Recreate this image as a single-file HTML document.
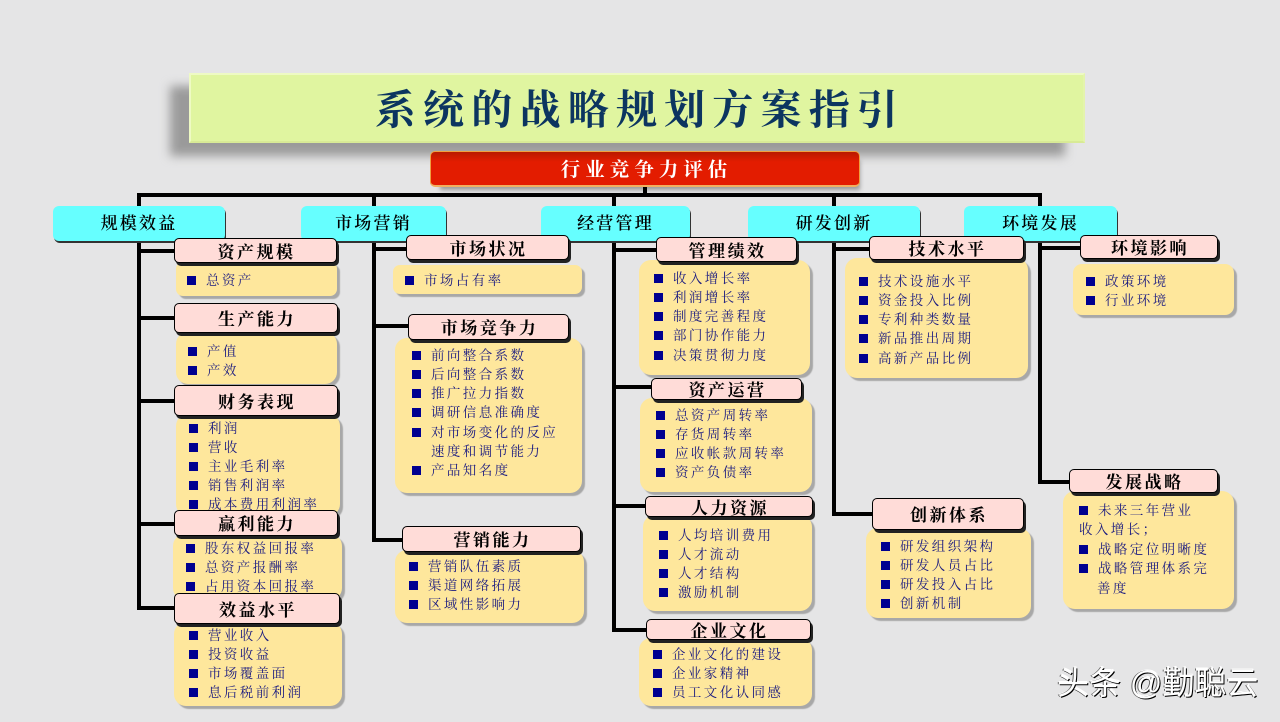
<!DOCTYPE html>
<html lang="zh">
<head>
<meta charset="utf-8">
<title>系统的战略规划方案指引</title>
<style>
html,body{margin:0;padding:0}
body{width:1280px;height:722px;overflow:hidden;position:relative;background:#e5e5e6;font-family:"Liberation Serif","Noto Serif CJK SC",serif}
div,b{position:absolute;box-sizing:border-box;display:block}
.l{background:#000}
.sh{background:#9a9a9a;filter:blur(5px)}
.title{left:189px;top:73px;width:896px;height:70px;background:#e0f5a0;border:2px solid #eefac4;border-right-color:#e4f4ac;border-bottom-color:#d8ea96;color:#0c3560;font-size:41px;font-weight:700;letter-spacing:7.2px;line-height:70px;text-align:center;padding-left:6px}
.red{left:430px;top:151px;width:430px;height:36px;border-radius:5px;background:linear-gradient(#b81a00 0,#e31c00 30%,#e31c00 100%);border:1px solid #f0a040;border-bottom:2px solid #f0b060;color:#fff;font-size:19.5px;font-weight:700;letter-spacing:5px;text-align:center;line-height:37px;padding-left:3px}
.c{height:35px;border-radius:6px;background:#66ffff;box-shadow:1px 2px 0 #333;color:#000;font-size:17px;font-weight:600;letter-spacing:2.2px;text-align:center;line-height:36px}
.y{background:#fee79c;border-radius:12px;box-shadow:3px 3px 1px #a8a8a8;transform:translateX(-1px)}
.h{background:#ffdcd8;border:1.5px solid #000;border-radius:5px;box-shadow:2px 3px 0 #222;color:#000;font-size:17px;font-weight:700;letter-spacing:2.5px;text-align:center;display:flex;align-items:center;justify-content:center;padding-bottom:1px;padding-left:2px;transform:translate(-1px,-1px)}
.t{color:#1a1a80;font-size:13.5px;letter-spacing:2.4px;line-height:19px;white-space:nowrap;height:19px}
.t.b::before{content:"";position:absolute;left:-19px;top:5px;width:9px;height:9px;background:#000090}
.wm{left:1057px;top:663px;font-family:"Liberation Sans","Noto Sans CJK SC",sans-serif;font-size:32px;line-height:40px;font-weight:400;color:#fff;text-shadow:1px 1px 0 #000,-1px 0 0 #666,0 -1px 0 #fff;white-space:nowrap}
</style>
</head>
<body>
<!-- title shadow -->
<div class="sh" style="left:170px;top:86px;width:895px;height:70px"></div>
<div class="title">系统的战略规划方案指引</div>
<div class="sh" style="left:440px;top:160px;width:420px;height:30px;filter:blur(2px)"></div>

<!-- connectors -->
<div class="l" style="left:643px;top:186px;width:4px;height:10px"></div>
<div class="l" style="left:137px;top:193px;width:905px;height:4px"></div>
<div class="l" style="left:137px;top:193px;width:4px;height:417px"></div>
<div class="l" style="left:372px;top:193px;width:4px;height:349px"></div>
<div class="l" style="left:612px;top:193px;width:4px;height:439px"></div>
<div class="l" style="left:832px;top:193px;width:4px;height:323px"></div>
<div class="l" style="left:1038px;top:193px;width:4px;height:291px"></div>
<div class="l" style="left:137px;top:249px;width:40px;height:4px"></div>
<div class="l" style="left:137px;top:316px;width:40px;height:4px"></div>
<div class="l" style="left:137px;top:399px;width:40px;height:4px"></div>
<div class="l" style="left:137px;top:522px;width:40px;height:4px"></div>
<div class="l" style="left:137px;top:606px;width:40px;height:4px"></div>
<div class="l" style="left:372px;top:247px;width:37px;height:4px"></div>
<div class="l" style="left:372px;top:324px;width:39px;height:4px"></div>
<div class="l" style="left:372px;top:538px;width:33px;height:4px"></div>
<div class="l" style="left:612px;top:248px;width:47px;height:4px"></div>
<div class="l" style="left:612px;top:385px;width:42px;height:4px"></div>
<div class="l" style="left:612px;top:504px;width:36px;height:4px"></div>
<div class="l" style="left:612px;top:628px;width:37px;height:4px"></div>
<div class="l" style="left:832px;top:247px;width:40px;height:4px"></div>
<div class="l" style="left:832px;top:512px;width:43px;height:4px"></div>
<div class="l" style="left:1038px;top:246px;width:45px;height:4px"></div>
<div class="l" style="left:1038px;top:480px;width:34px;height:4px"></div>

<div class="red">行业竞争力评估</div>

<!-- top categories -->
<div class="c" style="left:53px;top:206px;width:172px">规模效益</div>
<div class="c" style="left:301px;top:206px;width:145px">市场营销</div>
<div class="c" style="left:541px;top:206px;width:149px">经营管理</div>
<div class="c" style="left:748px;top:206px;width:172px">研发创新</div>
<div class="c" style="left:964px;top:206px;width:153px">环境发展</div>

<!-- yellow panels -->
<div class="y" style="left:177px;top:262px;width:161px;height:34px;border-radius:7px"></div>
<div class="y" style="left:177px;top:332px;width:161px;height:52px"></div>
<div class="y" style="left:177px;top:414px;width:164px;height:102px"></div>
<div class="y" style="left:174px;top:534px;width:169px;height:66px"></div>
<div class="y" style="left:175px;top:622px;width:168px;height:84px"></div>
<div class="y" style="left:394px;top:265px;width:189px;height:29px;border-radius:7px"></div>
<div class="y" style="left:396px;top:338px;width:187px;height:155px"></div>
<div class="y" style="left:396px;top:550px;width:189px;height:73px"></div>
<div class="y" style="left:640px;top:260px;width:171px;height:115px"></div>
<div class="y" style="left:641px;top:398px;width:172px;height:94px"></div>
<div class="y" style="left:644px;top:515px;width:169px;height:96px"></div>
<div class="y" style="left:640px;top:638px;width:173px;height:68px"></div>
<div class="y" style="left:846px;top:258px;width:183px;height:120px"></div>
<div class="y" style="left:867px;top:528px;width:165px;height:90px"></div>
<div class="y" style="left:1074px;top:264px;width:161px;height:51px;border-radius:9px"></div>
<div class="y" style="left:1064px;top:491px;width:171px;height:118px"></div>

<!-- list text -->
<div class="t b" style="left:206px;top:271px">总资产</div>
<div class="t b" style="left:207px;top:342px">产值</div>
<div class="t b" style="left:207px;top:361px">产效</div>
<div class="t b" style="left:208px;top:419px">利润</div>
<div class="t b" style="left:208px;top:438px">营收</div>
<div class="t b" style="left:208px;top:457px">主业毛利率</div>
<div class="t b" style="left:208px;top:476px">销售利润率</div>
<div class="t b" style="left:208px;top:495px">成本费用利润率</div>
<div class="t b" style="left:205px;top:539px">股东权益回报率</div>
<div class="t b" style="left:205px;top:558px">总资产报酬率</div>
<div class="t b" style="left:205px;top:577px">占用资本回报率</div>
<div class="t b" style="left:208px;top:626px">营业收入</div>
<div class="t b" style="left:208px;top:645px">投资收益</div>
<div class="t b" style="left:208px;top:664px">市场覆盖面</div>
<div class="t b" style="left:208px;top:683px">息后税前利润</div>

<div class="t b" style="left:424px;top:271px">市场占有率</div>
<div class="t b" style="left:431px;top:346px">前向整合系数</div>
<div class="t b" style="left:431px;top:365px">后向整合系数</div>
<div class="t b" style="left:431px;top:384px">推广拉力指数</div>
<div class="t b" style="left:431px;top:403px">调研信息准确度</div>
<div class="t b" style="left:431px;top:423px">对市场变化的反应</div>
<div class="t" style="left:431px;top:442px">速度和调节能力</div>
<div class="t b" style="left:431px;top:461px">产品知名度</div>
<div class="t b" style="left:428px;top:557px">营销队伍素质</div>
<div class="t b" style="left:428px;top:576px">渠道网络拓展</div>
<div class="t b" style="left:428px;top:595px">区域性影响力</div>

<div class="t b" style="left:673px;top:269px">收入增长率</div>
<div class="t b" style="left:673px;top:288px">利润增长率</div>
<div class="t b" style="left:673px;top:307px">制度完善程度</div>
<div class="t b" style="left:673px;top:326px">部门协作能力</div>
<div class="t b" style="left:673px;top:346px">决策贯彻力度</div>
<div class="t b" style="left:675px;top:406px">总资产周转率</div>
<div class="t b" style="left:675px;top:425px">存货周转率</div>
<div class="t b" style="left:675px;top:444px">应收帐款周转率</div>
<div class="t b" style="left:675px;top:463px">资产负债率</div>
<div class="t b" style="left:678px;top:526px">人均培训费用</div>
<div class="t b" style="left:678px;top:545px">人才流动</div>
<div class="t b" style="left:678px;top:564px">人才结构</div>
<div class="t b" style="left:678px;top:583px">激励机制</div>
<div class="t b" style="left:672px;top:645px">企业文化的建设</div>
<div class="t b" style="left:672px;top:664px">企业家精神</div>
<div class="t b" style="left:672px;top:683px">员工文化认同感</div>

<div class="t b" style="left:878px;top:272px">技术设施水平</div>
<div class="t b" style="left:878px;top:291px">资金投入比例</div>
<div class="t b" style="left:878px;top:310px">专利种类数量</div>
<div class="t b" style="left:878px;top:329px">新品推出周期</div>
<div class="t b" style="left:878px;top:349px">高新产品比例</div>
<div class="t b" style="left:900px;top:537px">研发组织架构</div>
<div class="t b" style="left:900px;top:556px">研发人员占比</div>
<div class="t b" style="left:900px;top:575px">研发投入占比</div>
<div class="t b" style="left:900px;top:594px">创新机制</div>

<div class="t b" style="left:1105px;top:272px">政策环境</div>
<div class="t b" style="left:1105px;top:291px">行业环境</div>
<div class="t b" style="left:1098px;top:501px">未来三年营业</div>
<div class="t" style="left:1079px;top:520px">收入增长；</div>
<div class="t b" style="left:1098px;top:540px">战略定位明晰度</div>
<div class="t b" style="left:1098px;top:559px">战略管理体系完</div>
<div class="t" style="left:1097px;top:579px">善度</div>

<!-- pink headers -->
<div class="h" style="left:175px;top:239px;width:163px;height:25px">资产规模</div>
<div class="h" style="left:175px;top:304px;width:164px;height:30px">生产能力</div>
<div class="h" style="left:175px;top:386px;width:164px;height:31px">财务表现</div>
<div class="h" style="left:175px;top:511px;width:164px;height:26px">赢利能力</div>
<div class="h" style="left:175px;top:594px;width:166px;height:31px">效益水平</div>
<div class="h" style="left:407px;top:236px;width:163px;height:25px">市场状况</div>
<div class="h" style="left:409px;top:315px;width:161px;height:26px">市场竞争力</div>
<div class="h" style="left:403px;top:527px;width:179px;height:26px">营销能力</div>
<div class="h" style="left:657px;top:238px;width:141px;height:25px">管理绩效</div>
<div class="h" style="left:652px;top:379px;width:151px;height:22px">资产运营</div>
<div class="h" style="left:646px;top:497px;width:168px;height:21px">人力资源</div>
<div class="h" style="left:647px;top:620px;width:165px;height:21px">企业文化</div>
<div class="h" style="left:870px;top:237px;width:155px;height:24px">技术水平</div>
<div class="h" style="left:873px;top:499px;width:152px;height:32px">创新体系</div>
<div class="h" style="left:1081px;top:236px;width:138px;height:24px">环境影响</div>
<div class="h" style="left:1070px;top:470px;width:149px;height:24px">发展战略</div>

<div class="wm">头条 @勤聪云</div>
</body>
</html>
